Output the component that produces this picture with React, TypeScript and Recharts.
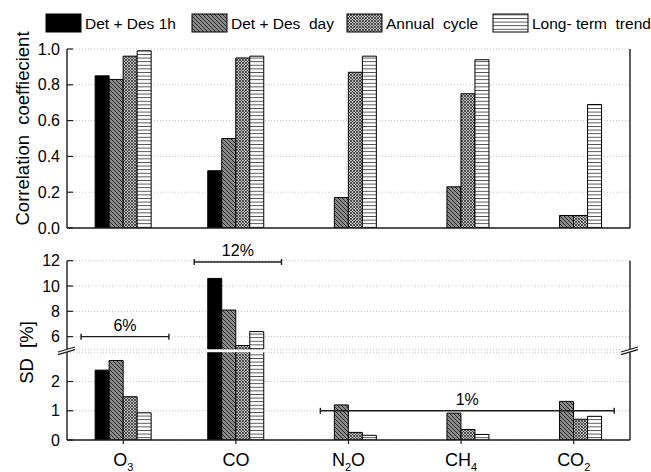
import React from 'react';
import { BarChart, Bar, XAxis, YAxis, CartesianGrid, ReferenceLine } from 'recharts';

// ---- data -------------------------------------------------------------
const species = ['O3', 'CO', 'N2O', 'CH4', 'CO2'];
// pieces used to typeset chemical formulas with subscripts
const speciesMain = ['O', 'CO', 'N', 'CH', 'CO'];
const speciesSub = ['3', '', '2', '4', '2'];
const speciesTail = ['', '', 'O', '', ''];

const seriesNames = ['Det + Des 1h', 'Det + Des  day', 'Annual  cycle', 'Long- term  trend'];

// correlation coefficient per component
const corrDet1h = [0.85, 0.32, null, null, null];
const corrDetDay = [0.83, 0.5, 0.17, 0.23, 0.07];
const corrAnnual = [0.96, 0.95, 0.87, 0.75, 0.07];
const corrTrend = [0.99, 0.96, 0.96, 0.94, 0.69];

// standard deviation [%] per component
const sdDet1h = [2.39, 10.6, null, null, null];
const sdDetDay = [2.72, 8.1, 1.2, 0.92, 1.32];
const sdAnnual = [1.48, 5.3, 0.26, 0.36, 0.71];
const sdTrend = [0.93, 6.4, 0.16, 0.19, 0.81];

// axis ticks
const corrTicks = [0, 0.2, 0.4, 0.6, 0.8, 1.0];
const corrMinor = [0.1, 0.3, 0.5, 0.7, 0.9];
const sdHighTicks = [6, 8, 10, 12];
const sdHighMinor = [7, 9, 11];
const sdLowTicks = [0, 1, 2];
const sdLowMinor = [0.5, 1.5, 2.5];

// compatibility ranges (x in category units, 0..5)
const rangeLabels = ['6%', '12%', '1%'];
const rangeFrom = [0.125, 1.13, 2.25];
const rangeTo = [0.905, 1.905, 4.86];
const rangeLevel = [6, 11.9, 1];

// ---- layout / style ---------------------------------------------------
const FONT = '"Liberation Sans", Arial, Helvetica, sans-serif';
const INK = '#1c1c1c';
const PAGE_W = 651;
const PAGE_H = 472;
const LEFT_W = 67;
const RIGHT_W = 21;
const SD_LOW_MAX = 3;
const SD_HIGH_MIN = 5;

const seriesKeys = ['det1h', 'detDay', 'annual', 'trend'];
const seriesFills = ['#000000', 'url(#pat-hatch)', 'url(#pat-cross)', 'url(#pat-lines)'];

const toRows = (a: any[], b: any[], c: any[], d: any[]) =>
  species.map((name, i) => ({ name, det1h: a[i], detDay: b[i], annual: c[i], trend: d[i] }));

const keepHigh = (arr: any[]) => arr.map((v) => (v != null && v >= SD_HIGH_MIN ? v : null));

const corrRows = toRows(corrDet1h, corrDetDay, corrAnnual, corrTrend);
const sdHighRows = toRows(keepHigh(sdDet1h), keepHigh(sdDetDay), keepHigh(sdAnnual), keepHigh(sdTrend));
const sdLowRows = toRows(sdDet1h, sdDetDay, sdAnnual, sdTrend);

const ranges = rangeLabels.map((label, i) => ({
  label,
  from: rangeFrom[i],
  to: rangeTo[i],
  level: rangeLevel[i],
}));

// ---- helpers ----------------------------------------------------------
function PatternDefs() {
  return (
    <svg width={0} height={0} style={{ position: 'absolute' }}>
      <defs>
        <pattern id="pat-hatch" patternUnits="userSpaceOnUse" width={4} height={4}>
          <rect width={4} height={4} fill="#8a8a8a" />
          <path d="M-1,-1 L5,5 M-1,3 L1,5 M3,-1 L5,1" stroke="#2a2a2a" strokeWidth={1} />
        </pattern>
        <pattern id="pat-cross" patternUnits="userSpaceOnUse" width={3} height={3}>
          <rect width={3} height={3} fill="#bdbdbd" />
          <path d="M0,0 L3,3 M3,0 L0,3" stroke="#3c3c3c" strokeWidth={0.85} />
        </pattern>
        <pattern id="pat-lines" patternUnits="userSpaceOnUse" width={4} height={3.6}>
          <rect width={4} height={3.6} fill="#ffffff" />
          <line x1={0} x2={4} y1={0.5} y2={0.5} stroke="#3a3a3a" strokeWidth={0.9} />
        </pattern>
      </defs>
    </svg>
  );
}

const tickFont = { fill: '#000', fontSize: 16, fontFamily: FONT };

function yAxes(domain: number[], major: number[], minor: number[], fmt?: (v: number) => string) {
  const line = { stroke: INK, strokeWidth: 1.4 };
  const tl = { stroke: INK, strokeWidth: 1.2 };
  return [
    <YAxis key="lm" yAxisId="lm" type="number" mirror width={0} domain={domain} ticks={minor}
      allowDataOverflow interval={0} tick={false} axisLine={false} tickLine={tl} tickSize={3} />,
    <YAxis key="L" yAxisId="L" type="number" width={LEFT_W} domain={domain} ticks={major}
      allowDataOverflow interval={0} tickSize={-6} tickMargin={13} tickFormatter={fmt}
      tick={tickFont} axisLine={line} tickLine={tl} />,
    <YAxis key="R" yAxisId="R" type="number" orientation="right" width={RIGHT_W} domain={domain}
      ticks={major} allowDataOverflow interval={0} tick={false} tickSize={-6} axisLine={line} tickLine={tl} />,
    <YAxis key="rm" yAxisId="rm" type="number" orientation="right" mirror width={0} domain={domain}
      ticks={minor} allowDataOverflow interval={0} tick={false} axisLine={false} tickLine={tl} tickSize={3} />,
  ];
}

function bars() {
  return seriesKeys.map((k, i) => (
    <Bar key={k} dataKey={k} name={seriesNames[i]} yAxisId="L" fill={seriesFills[i]}
      stroke="#000" strokeWidth={1} isAnimationActive={false} />
  ));
}

// continuous x axis spanning the five category bands, used to place range brackets
const positionAxis = (
  <XAxis xAxisId="pos" type="number" dataKey={() => 0} domain={[0, species.length]} allowDataOverflow hide />
);

function bracketShape(text: string) {
  return (p: any) => {
    const { x1, x2, y1 } = p;
    const cx = (x1 + x2) / 2;
    return (
      <g>
        <line x1={x1} x2={x2} y1={y1} y2={y1} stroke={INK} strokeWidth={1.4} />
        <line x1={x1} x2={x1} y1={y1 - 3} y2={y1 + 3} stroke={INK} strokeWidth={1.4} />
        <line x1={x2} x2={x2} y1={y1 - 3} y2={y1 + 3} stroke={INK} strokeWidth={1.4} />
        <text x={cx} y={y1 - 6} textAnchor="middle" fontSize={16} fontFamily={FONT} fill="#000">
          {text}
        </text>
      </g>
    );
  };
}

function rangeLines(inHigh: boolean) {
  return ranges
    .filter((r) => (r.level >= SD_HIGH_MIN) === inHigh)
    .map((r) => (
      <ReferenceLine key={r.label} xAxisId="pos" yAxisId="L" ifOverflow="visible"
        segment={[{ x: r.from, y: r.level }, { x: r.to, y: r.level }]}
        shape={bracketShape(r.label)} />
    ));
}

function SpeciesTick(props: any) {
  const { x, y, payload } = props;
  const i = species.indexOf(payload.value);
  return (
    <text x={x} y={y + 22} textAnchor="middle" fontSize={18} fontFamily={FONT} fill="#000">
      {speciesMain[i]}
      {speciesSub[i] ? <tspan fontSize={11} dy={5}>{speciesSub[i]}</tspan> : null}
      {speciesTail[i] ? <tspan fontSize={18} dy={-5}>{speciesTail[i]}</tspan> : null}
    </text>
  );
}

function Legend() {
  const swatchX = [46, 192, 347, 493];
  return (
    <svg width={PAGE_W} height={40} style={{ position: 'absolute', left: 0, top: 0 }}>
      {seriesNames.map((n, i) => (
        <g key={n}>
          <rect x={swatchX[i]} y={14} width={35} height={18} fill={seriesFills[i]} stroke="#000" strokeWidth={1} />
          <text x={swatchX[i] + 39} y={23} dominantBaseline="central" fontSize={15.5}
            fontFamily={FONT} fill="#000" style={{ whiteSpace: 'pre' }}>
            {n}
          </text>
        </g>
      ))}
    </svg>
  );
}

function AxisBreak({ x, y }: { x: number; y: number }) {
  return (
    <g>
      <polygon points={`${x - 9},${y + 1.2} ${x + 8},${y - 3.8} ${x + 8},${y - 1.2} ${x - 9},${y + 3.8}`} fill="#fff" />
      <line x1={x - 9} y1={y + 1.2} x2={x + 8} y2={y - 3.8} stroke={INK} strokeWidth={1.3} />
      <line x1={x - 9} y1={y + 3.8} x2={x + 8} y2={y - 1.2} stroke={INK} strokeWidth={1.3} />
    </g>
  );
}

const abs = (top: number): React.CSSProperties => ({ position: 'absolute', left: 0, top });

export default function App() {
  return (
    <div style={{ position: 'absolute', left: 0, top: 0, width: PAGE_W, height: PAGE_H, background: '#fff', overflow: 'hidden', fontFamily: FONT }}>
      <PatternDefs />
      <Legend />

      {/* correlation panel */}
      <div style={abs(0)}>
        <BarChart width={PAGE_W} height={236} data={corrRows} barCategoryGap="25%" barGap={0}
          margin={{ top: 49, right: 0, bottom: 0, left: 0 }}>
          <CartesianGrid yAxisId="L" vertical={false} stroke="#c4c4c4" strokeDasharray="1 2" />
          <XAxis dataKey="name" height={8} tick={false} tickSize={4}
            axisLine={{ stroke: INK, strokeWidth: 1.4 }} tickLine={{ stroke: INK, strokeWidth: 1.2 }} />
          {yAxes([0, 1], corrTicks, corrMinor, (v: number) => v.toFixed(1))}
          {bars()}
        </BarChart>
      </div>

      {/* SD panel, upper segment */}
      <div style={abs(240)}>
        <BarChart width={PAGE_W} height={110} data={sdHighRows} barCategoryGap="25%" barGap={0}
          margin={{ top: 20.7, right: 0, bottom: 0.7, left: 0 }}>
          <CartesianGrid yAxisId="L" vertical={false} stroke="#c4c4c4" strokeDasharray="1 2" />
          <XAxis dataKey="name" hide />
          {positionAxis}
          {yAxes([SD_HIGH_MIN, 12], sdHighTicks, sdHighMinor)}
          {bars()}
          {rangeLines(true)}
        </BarChart>
      </div>

      {/* SD panel, lower segment */}
      <div style={abs(340)}>
        <BarChart width={PAGE_W} height={132} data={sdLowRows} barCategoryGap="25%" barGap={0}
          margin={{ top: 12.3, right: 0, bottom: 0, left: 0 }}>
          <CartesianGrid yAxisId="L" vertical={false} stroke="#c4c4c4" strokeDasharray="1 2" />
          <XAxis dataKey="name" height={32} tickSize={4} tickMargin={0} interval={0}
            tick={<SpeciesTick />}
            axisLine={{ stroke: INK, strokeWidth: 1.4 }} tickLine={{ stroke: INK, strokeWidth: 1.2 }} />
          {positionAxis}
          {yAxes([0, SD_LOW_MAX], sdLowTicks, sdLowMinor)}
          {bars()}
          {rangeLines(false)}
        </BarChart>
      </div>

      {/* axis titles and break marks */}
      <svg width={PAGE_W} height={PAGE_H} style={{ position: 'absolute', left: 0, top: 0, pointerEvents: 'none' }}>
        <text transform="translate(28.5,128.5) rotate(-90)" textAnchor="middle" fontSize={18.5}
          fontFamily={FONT} fill="#000" style={{ whiteSpace: 'pre' }}>
          {'Correlation  coeffiecient'}
        </text>
        <text transform="translate(33,352.5) rotate(-90)" textAnchor="middle" fontSize={18.5}
          fontFamily={FONT} fill="#000" style={{ whiteSpace: 'pre' }}>
          {'SD  [%]'}
        </text>
        <AxisBreak x={LEFT_W} y={350.8} />
        <AxisBreak x={PAGE_W - RIGHT_W} y={350.8} />
      </svg>
    </div>
  );
}
